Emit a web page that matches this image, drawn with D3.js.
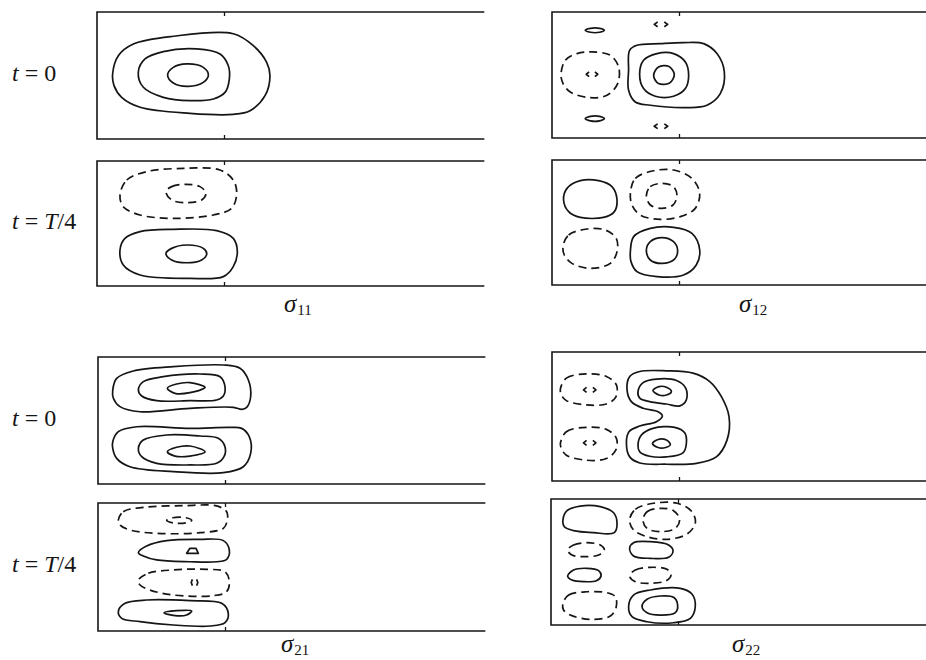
<!DOCTYPE html>
<html>
<head>
<meta charset="utf-8">
<script src="https://cdn.jsdelivr.net/npm/d3@7"></script>
<style>
  body { margin: 0; background: #fff; }
  svg { display: block; }
</style>
</head>
<body>
<svg id="fig" width="926" height="660"></svg>
<script>
// Stress-component contour loops in channel units:
// x runs along the channel (tick mark at x = 1), y across it (0 = bottom wall, 1 = top wall).
// sign +1 = positive level (solid line), sign -1 = negative level (dashed line).

const sigma11_t0 = [
  { sign: 1, pts: [[0.123,0.512],[0.168,0.656],[0.286,0.748],[0.601,0.809],[1.073,0.829],[1.231,0.735],[1.336,0.604],[1.362,0.499],[1.323,0.341],[1.205,0.223],[1.073,0.194],[0.732,0.202],[0.339,0.250],[0.194,0.328],[0.134,0.420]] },
  { sign: 1, pts: [[0.325,0.525],[0.378,0.630],[0.522,0.688],[0.785,0.709],[0.969,0.669],[1.034,0.577],[1.042,0.472],[1.008,0.367],[0.916,0.315],[0.732,0.302],[0.522,0.328],[0.365,0.407]] },
  { sign: 1, pts: [[0.556,0.504],[0.601,0.564],[0.706,0.591],[0.837,0.564],[0.877,0.504],[0.837,0.446],[0.719,0.415],[0.601,0.441]] }
];

const sigma11_tq = [
  { sign: -1, pts: [[0.181,0.728],[0.234,0.848],[0.391,0.915],[0.680,0.941],[0.969,0.928],[1.073,0.848],[1.100,0.741],[1.060,0.621],[0.916,0.568],[0.601,0.541],[0.339,0.568],[0.207,0.634]] },
  { sign: -1, pts: [[0.543,0.755],[0.588,0.795],[0.693,0.813],[0.811,0.795],[0.858,0.741],[0.824,0.688],[0.706,0.667],[0.588,0.688]] },
  { sign: 1, pts: [[0.181,0.288],[0.220,0.381],[0.339,0.435],[0.601,0.453],[0.942,0.443],[1.073,0.381],[1.105,0.275],[1.073,0.155],[0.995,0.075],[0.732,0.061],[0.339,0.088],[0.207,0.168]] },
  { sign: 1, pts: [[0.543,0.261],[0.588,0.301],[0.706,0.328],[0.837,0.301],[0.864,0.256],[0.824,0.208],[0.706,0.186],[0.588,0.208]] }
];

const sigma12_t0 = [
  { sign: 1, pts: [[0.262,0.855],[0.302,0.870],[0.375,0.870],[0.412,0.855],[0.375,0.839],[0.302,0.839]] },
  { sign: 1, pts: [[0.262,0.154],[0.302,0.172],[0.375,0.172],[0.412,0.154],[0.375,0.136],[0.302,0.136]] },
  { sign: -1, pts: [[0.805,0.902],[0.833,0.922],[0.883,0.922],[0.911,0.902],[0.883,0.882],[0.833,0.882]], tiny: true },
  { sign: -1, pts: [[0.805,0.093],[0.833,0.113],[0.883,0.113],[0.911,0.093],[0.883,0.073],[0.833,0.073]], tiny: true },
  { sign: -1, pts: [[0.071,0.506],[0.105,0.617],[0.197,0.670],[0.315,0.683],[0.459,0.656],[0.525,0.563],[0.517,0.432],[0.433,0.339],[0.288,0.321],[0.144,0.365],[0.087,0.432]] },
  { sign: -1, pts: [[0.270,0.506],[0.294,0.526],[0.336,0.526],[0.360,0.506],[0.336,0.486],[0.294,0.486]], tiny: true },
  { sign: 1, pts: [[0.611,0.696],[0.669,0.736],[0.853,0.749],[1.036,0.757],[1.194,0.749],[1.299,0.670],[1.357,0.524],[1.325,0.352],[1.220,0.260],[1.063,0.241],[0.774,0.260],[0.656,0.286],[0.603,0.379],[0.603,0.537]] },
  { sign: 1, pts: [[0.690,0.506],[0.721,0.617],[0.827,0.670],[0.957,0.670],[1.050,0.603],[1.076,0.498],[1.050,0.392],[0.957,0.331],[0.813,0.331],[0.721,0.392]] },
  { sign: 1, pts: [[0.800,0.498],[0.839,0.563],[0.918,0.569],[0.963,0.506],[0.926,0.437],[0.839,0.432]] }
];

const sigma12_tq = [
  { sign: 1, pts: [[0.091,0.680],[0.118,0.773],[0.223,0.835],[0.367,0.835],[0.472,0.787],[0.512,0.680],[0.491,0.587],[0.406,0.541],[0.223,0.541],[0.131,0.587]] },
  { sign: -1, pts: [[0.617,0.733],[0.656,0.853],[0.800,0.914],[0.957,0.920],[1.102,0.853],[1.163,0.733],[1.128,0.613],[1.010,0.547],[0.853,0.525],[0.695,0.560],[0.630,0.640]] },
  { sign: -1, pts: [[0.743,0.715],[0.774,0.787],[0.866,0.813],[0.957,0.787],[0.984,0.715],[0.953,0.640],[0.866,0.613],[0.774,0.640]] },
  { sign: -1, pts: [[0.087,0.307],[0.131,0.400],[0.276,0.448],[0.420,0.440],[0.506,0.373],[0.512,0.267],[0.459,0.173],[0.302,0.133],[0.157,0.173],[0.097,0.240]] },
  { sign: 1, pts: [[0.617,0.267],[0.643,0.387],[0.774,0.453],[0.957,0.461],[1.102,0.413],[1.163,0.280],[1.136,0.160],[1.036,0.080],[0.827,0.067],[0.669,0.107],[0.622,0.187]] },
  { sign: 1, pts: [[0.743,0.280],[0.774,0.347],[0.866,0.379],[0.957,0.347],[0.989,0.280],[0.963,0.205],[0.866,0.173],[0.774,0.200]] }
];

const sigma21_t0 = [
  { sign: 1, pts: [[0.116,0.740],[0.147,0.832],[0.278,0.890],[0.593,0.924],[0.987,0.937],[1.118,0.911],[1.184,0.819],[1.202,0.687],[1.171,0.604],[1.131,0.588],[1.066,0.604],[0.724,0.596],[0.331,0.569],[0.173,0.609],[0.121,0.675]] },
  { sign: 1, pts: [[0.318,0.740],[0.357,0.806],[0.514,0.845],[0.803,0.866],[0.961,0.845],[1.000,0.766],[0.987,0.693],[0.934,0.661],[0.724,0.656],[0.462,0.656],[0.344,0.693]] },
  { sign: 1, pts: [[0.546,0.754],[0.619,0.787],[0.724,0.798],[0.843,0.761],[0.724,0.719],[0.606,0.714]] },
  { sign: 1, pts: [[0.116,0.333],[0.160,0.412],[0.305,0.451],[0.724,0.438],[1.039,0.446],[1.131,0.438],[1.191,0.373],[1.202,0.241],[1.144,0.136],[0.987,0.089],[0.593,0.097],[0.252,0.136],[0.147,0.202],[0.116,0.281]] },
  { sign: 1, pts: [[0.318,0.281],[0.357,0.346],[0.541,0.386],[0.803,0.378],[0.947,0.360],[1.000,0.294],[0.992,0.215],[0.934,0.163],[0.724,0.150],[0.462,0.163],[0.344,0.215]] },
  { sign: 1, pts: [[0.546,0.254],[0.619,0.289],[0.724,0.299],[0.843,0.254],[0.724,0.220],[0.606,0.220]] }
];

const sigma21_tq = [
  { sign: -1, pts: [[0.160,0.867],[0.199,0.932],[0.357,0.966],[0.672,0.979],[0.934,0.977],[1.013,0.932],[1.018,0.867],[0.987,0.802],[0.803,0.768],[0.462,0.763],[0.252,0.789],[0.173,0.828]] },
  { sign: -1, pts: [[0.541,0.865],[0.590,0.885],[0.690,0.885],[0.738,0.865],[0.690,0.845],[0.590,0.845]] },
  { sign: 1, pts: [[0.318,0.612],[0.383,0.664],[0.541,0.706],[0.803,0.716],[0.987,0.706],[1.034,0.633],[1.013,0.560],[0.934,0.541],[0.724,0.541],[0.462,0.555],[0.357,0.586]] },
  { sign: 1, pts: [[0.698,0.607],[0.724,0.646],[0.772,0.646],[0.790,0.607]], sharp: true },
  { sign: -1, pts: [[0.318,0.398],[0.396,0.451],[0.593,0.477],[0.856,0.482],[1.000,0.463],[1.034,0.385],[1.013,0.307],[0.908,0.276],[0.593,0.281],[0.409,0.320],[0.331,0.359]] },
  { sign: -1, pts: [[0.734,0.379],[0.746,0.410],[0.774,0.410],[0.786,0.379],[0.774,0.348],[0.746,0.348]], tiny: true },
  { sign: 1, pts: [[0.160,0.151],[0.213,0.216],[0.383,0.242],[0.724,0.237],[0.974,0.216],[1.026,0.138],[1.000,0.065],[0.882,0.039],[0.593,0.047],[0.331,0.073],[0.187,0.099]] },
  { sign: 1, pts: [[0.520,0.143],[0.619,0.159],[0.738,0.156],[0.698,0.125],[0.606,0.120]] }
];

const sigma22_t0 = [
  { sign: -1, pts: [[0.066,0.712],[0.113,0.797],[0.271,0.831],[0.428,0.810],[0.507,0.745],[0.502,0.650],[0.428,0.597],[0.271,0.590],[0.113,0.623],[0.074,0.667]] },
  { sign: -1, pts: [[0.248,0.706],[0.274,0.727],[0.320,0.727],[0.346,0.706],[0.320,0.685],[0.274,0.685]], tiny: true },
  { sign: -1, pts: [[0.066,0.291],[0.113,0.382],[0.271,0.416],[0.428,0.400],[0.507,0.330],[0.502,0.239],[0.428,0.174],[0.271,0.161],[0.113,0.200],[0.074,0.252]] },
  { sign: -1, pts: [[0.248,0.296],[0.274,0.317],[0.320,0.317],[0.346,0.296],[0.320,0.275],[0.274,0.275]], tiny: true },
  { sign: 1, pts: [[0.691,0.849],[0.901,0.854],[1.110,0.836],[1.242,0.771],[1.334,0.654],[1.394,0.498],[1.378,0.317],[1.294,0.187],[1.137,0.136],[0.901,0.130],[0.691,0.140],[0.612,0.187],[0.586,0.291],[0.606,0.382],[0.691,0.426],[0.822,0.460],[0.869,0.504],[0.835,0.537],[0.717,0.564],[0.625,0.615],[0.591,0.706],[0.612,0.810]] },
  { sign: 1, pts: [[0.677,0.693],[0.717,0.763],[0.822,0.790],[0.980,0.779],[1.053,0.720],[1.058,0.629],[1.006,0.582],[0.901,0.597],[0.769,0.615],[0.691,0.642]] },
  { sign: 1, pts: [[0.795,0.701],[0.843,0.732],[0.901,0.727],[0.940,0.693],[0.901,0.667],[0.843,0.667]] },
  { sign: 1, pts: [[0.677,0.278],[0.704,0.356],[0.795,0.408],[0.966,0.416],[1.045,0.374],[1.058,0.291],[1.031,0.218],[0.901,0.187],[0.769,0.192],[0.691,0.226]] },
  { sign: 1, pts: [[0.791,0.291],[0.835,0.322],[0.901,0.317],[0.932,0.283],[0.895,0.260],[0.835,0.260]] }
];

const sigma22_tq = [
  { sign: 1, pts: [[0.094,0.833],[0.126,0.907],[0.231,0.944],[0.388,0.939],[0.493,0.891],[0.520,0.807],[0.498,0.733],[0.335,0.733],[0.178,0.749],[0.105,0.780]] },
  { sign: -1, pts: [[0.619,0.833],[0.664,0.918],[0.808,0.966],[0.992,0.966],[1.110,0.899],[1.136,0.807],[1.071,0.722],[0.913,0.680],[0.756,0.701],[0.650,0.754]] },
  { sign: -1, pts: [[0.724,0.833],[0.756,0.899],[0.861,0.926],[0.965,0.907],[1.013,0.839],[0.979,0.767],[0.861,0.741],[0.756,0.767]] },
  { sign: -1, pts: [[0.131,0.595],[0.178,0.635],[0.283,0.653],[0.388,0.635],[0.420,0.595],[0.375,0.556],[0.270,0.542],[0.165,0.556]] },
  { sign: 1, pts: [[0.619,0.609],[0.650,0.653],[0.782,0.661],[0.926,0.635],[0.961,0.590],[0.926,0.537],[0.782,0.529],[0.650,0.548]] },
  { sign: 1, pts: [[0.131,0.389],[0.178,0.437],[0.283,0.450],[0.375,0.431],[0.394,0.389],[0.357,0.352],[0.257,0.344],[0.165,0.357]] },
  { sign: -1, pts: [[0.619,0.389],[0.664,0.437],[0.782,0.458],[0.913,0.442],[0.945,0.397],[0.908,0.352],[0.782,0.331],[0.664,0.344]] },
  { sign: -1, pts: [[0.094,0.172],[0.139,0.238],[0.283,0.264],[0.441,0.256],[0.506,0.225],[0.514,0.145],[0.467,0.071],[0.309,0.045],[0.152,0.079],[0.099,0.119]] },
  { sign: 1, pts: [[0.611,0.145],[0.650,0.238],[0.782,0.278],[1.018,0.291],[1.110,0.246],[1.136,0.145],[1.097,0.053],[0.965,0.018],[0.756,0.026],[0.638,0.066]] },
  { sign: 1, pts: [[0.717,0.145],[0.756,0.204],[0.861,0.230],[0.965,0.220],[0.997,0.159],[0.979,0.098],[0.861,0.079],[0.756,0.098]] }
];

// labels
const timeLabels = [["t", " = ", "0"], ["t", " = ", "T", "/4"]];
const componentSubscripts = ["11", "12", "21", "22"];
const channelLength = 3.05;   // drawn length of each channel strip, in channel units
const tickPositions = [1];

// layout of the eight strips (pixels)
const UNIT = 127;
const panels = [
  { loops: sigma11_t0, left: 97,  top: 12,  bottom: 139, time: 0, showTime: true },
  { loops: sigma11_tq, left: 97,  top: 161, bottom: 286, time: 1, showTime: true, comp: 0, labelX: 284, labelY: 312 },
  { loops: sigma12_t0, left: 552, top: 12,  bottom: 138, time: 0 },
  { loops: sigma12_tq, left: 552, top: 160, bottom: 285, time: 1, comp: 1, labelX: 739, labelY: 312 },
  { loops: sigma21_t0, left: 98,  top: 357, bottom: 484, time: 0, showTime: true },
  { loops: sigma21_tq, left: 98,  top: 503, bottom: 631, time: 1, showTime: true, comp: 2, labelX: 281, labelY: 652 },
  { loops: sigma22_t0, left: 552, top: 352, bottom: 481, time: 0 },
  { loops: sigma22_tq, left: 551, top: 499, bottom: 625, time: 1, comp: 3, labelX: 732, labelY: 652 }
];

const INK = "#151515";
const FONT = "'Liberation Serif', 'DejaVu Serif', serif";
const svg = d3.select("#fig");

panels.forEach(p => {
  const x = d3.scaleLinear().domain([0, 1]).range([p.left, p.left + UNIT]);
  const y = d3.scaleLinear().domain([0, 1]).range([p.bottom, p.top]);
  const g = svg.append("g");

  // channel walls: top, inlet (left) and bottom
  const xEnd = x(channelLength);
  g.append("path")
    .attr("d", `M${xEnd},${y(1)}H${x(0)}V${y(0)}H${xEnd}`)
    .attr("fill", "none")
    .attr("stroke", INK)
    .attr("stroke-width", 1.6);

  // inward tick marks on both walls
  const tickStyle = a => {
    a.select(".domain").remove();
    a.selectAll("line").attr("stroke", INK).attr("stroke-width", 1.3);
    a.selectAll("text").remove();
  };
  g.append("g").attr("transform", `translate(0,${y(1)})`)
    .call(d3.axisTop(x).tickValues(tickPositions).tickSize(-4).tickFormat(""))
    .call(tickStyle);
  g.append("g").attr("transform", `translate(0,${y(0)})`)
    .call(d3.axisBottom(x).tickValues(tickPositions).tickSize(-4).tickFormat(""))
    .call(tickStyle);

  // contour loops
  const smooth = d3.line().x(d => x(d[0])).y(d => y(d[1])).curve(d3.curveCatmullRomClosed.alpha(0.5));
  const linear = d3.line().x(d => x(d[0])).y(d => y(d[1])).curve(d3.curveLinearClosed);
  p.loops.forEach(loop => {
    const path = g.append("path")
      .attr("d", (loop.sharp || loop.tiny ? linear : smooth)(loop.pts))
      .attr("fill", "none")
      .attr("stroke", INK)
      .attr("stroke-width", 1.7)
      .attr("stroke-linejoin", "round");
    if (loop.sign < 0) {
      if (loop.tiny) {
        // very small negative loops: one short stroke round each end
        const half = path.node().getTotalLength() / 2;
        const dash = half * 0.55;
        path.attr("stroke-dasharray", `${dash} ${half - dash}`)
            .attr("stroke-dashoffset", dash / 2);
      } else {
        path.attr("stroke-dasharray", "8 5");
      }
    }
  });

  // time label left of the strips in the first column
  if (p.showTime) {
    const t = svg.append("text")
      .attr("x", 12)
      .attr("y", (p.top + p.bottom) / 2 + 5)
      .attr("font-family", FONT)
      .attr("font-size", 24)
      .attr("fill", INK);
    timeLabels[p.time].forEach(s => {
      t.append("tspan")
        .attr("font-style", (s === "t" || s === "T") ? "italic" : "normal")
        .attr("xml:space", "preserve")
        .text(s);
    });
  }

  // component label under the lower strip of each pair
  if (p.comp !== undefined) {
    const lab = svg.append("text")
      .attr("x", p.labelX)
      .attr("y", p.labelY)
      .attr("font-family", FONT)
      .attr("fill", INK);
    lab.append("tspan").attr("font-style", "italic").attr("font-size", 25).text("σ");
    lab.append("tspan").attr("font-size", 15).attr("dx", 1).attr("dy", 3).text(componentSubscripts[p.comp]);
  }
});
</script>
</body>
</html>
